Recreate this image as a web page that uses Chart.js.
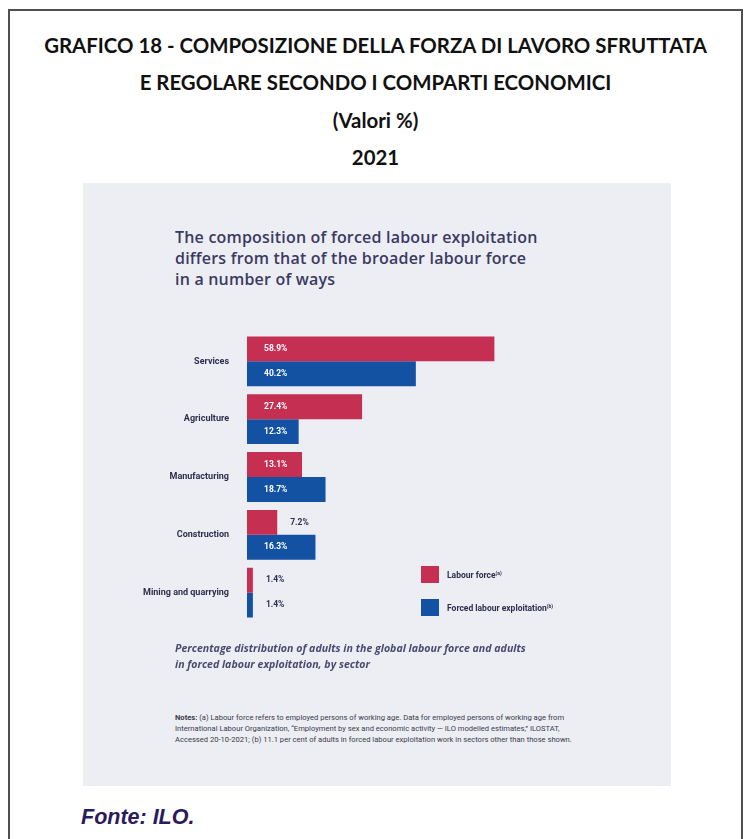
<!DOCTYPE html>
<html>
<head>
<meta charset="utf-8">
<script src="https://cdn.jsdelivr.net/npm/chart.js@4.4.0/dist/chart.umd.min.js"></script>
<style>
  html, body { margin: 0; padding: 0; background: #fff; }
  body { width: 744px; height: 839px; position: relative; overflow: hidden; font-family: 'Open Sans', sans-serif; }
  .frame { position: absolute; left: 8px; top: 9px; width: 731px; height: 900px; border: 2px solid #505050; }
  .head { position: absolute; left: 9px; width: 733px; text-align: center; font-family: Lato, sans-serif;
          font-weight: 700; font-size: 20.4px; color: #111; line-height: 24px; }
  .panel { position: absolute; left: 83px; top: 183px; width: 588px; height: 603px; background: #eceef4; }
  .lead { position: absolute; left: 175px; top: 227px; font-size: 16px; font-weight: 600; color: #3b3a63;
          line-height: 21px; letter-spacing: 0.2px; }
  #wrap { position: absolute; left: 90px; top: 309px; width: 419px; height: 336px; }
  .legend { position: absolute; left: 421px; top: 566px; }
  .leg-item { display: flex; align-items: center; height: 17px; margin-bottom: 16px; font-family: Roboto, sans-serif;
              font-size: 8.5px; font-weight: 700; color: #2e2d4d; }
  .leg-dot { width: 18px; height: 17px; margin-right: 8px; }
  .leg-item sup { font-size: 5px; vertical-align: 3px; line-height: 0; }
  .caption { position: absolute; left: 175px; top: 640px; font-size: 10.6px; font-weight: 700; font-style: italic;
             color: #4a4970; line-height: 16px; }
  .notes { position: absolute; left: 175px; top: 712px; font-family: Roboto, sans-serif; font-size: 7.6px;
           color: #3a3a4a; line-height: 11px; white-space: nowrap; }
  .fonte { position: absolute; left: 81px; top: 805px; font-family: 'Liberation Sans', Arial, sans-serif;
           font-size: 21.5px; font-weight: 700; font-style: italic; color: #2b1b5c; }
</style>
</head>
<body>
<div class="frame"></div>
<div class="head" style="top:33px">GRAFICO 18 - COMPOSIZIONE DELLA FORZA DI LAVORO SFRUTTATA</div>
<div class="head" style="top:70px">E REGOLARE SECONDO I COMPARTI ECONOMICI</div>
<div class="head" style="top:108px">(Valori %)</div>
<div class="head" style="top:145px">2021</div>

<div class="panel"></div>
<div class="lead">The composition of forced labour exploitation<br>differs from that of the broader labour force<br>in a number of ways</div>
<div id="wrap"><canvas id="barChart"></canvas></div>
<div class="legend" id="legend"></div>
<div class="caption">Percentage distribution of adults in the global labour force and adults<br>in forced labour exploitation, by sector</div>
<div class="notes"><b>Notes:</b> (a) Labour force refers to employed persons of working age. Data for employed persons of working age from<br>International Labour Organization, “Employment by sex and economic activity — ILO modelled estimates,” ILOSTAT,<br>Accessed 20-10-2021; (b) 11.1 per cent of adults in forced labour exploitation work in sectors other than those shown.</div>
<div class="fonte">Fonte: ILO.</div>

<script>
// Sector shares (%)
const sectors       = ['Services', 'Agriculture', 'Manufacturing', 'Construction', 'Mining and quarrying'];
const labourForce   = [58.9, 27.4, 13.1, 7.2, 1.4];
const forcedLabour  = [40.2, 12.3, 18.7, 16.3, 1.4];

const RED   = '#c42f52';
const BLUE  = '#1352a2';
const INK   = '#2e2d4d';

// Legend (html)
document.getElementById('legend').innerHTML = [
  { label: 'Labour force', sup: '(a)', color: RED },
  { label: 'Forced labour exploitation', sup: '(b)', color: BLUE }
].map(i => `<div class="leg-item"><span class="leg-dot" style="background:${i.color}"></span><span>${i.label}<sup>${i.sup}</sup></span></div>`).join('');

// Value labels: white inside the bar, dark just past the end when the bar is too short
const valueLabels = {
  id: 'valueLabels',
  afterDatasetsDraw(chart) {
    const ctx = chart.ctx;
    ctx.save();
    ctx.font = '700 8.5px Roboto, sans-serif';
    ctx.textBaseline = 'middle';
    ctx.textAlign = 'left';
    chart.data.datasets.forEach((ds, di) => {
      chart.getDatasetMeta(di).data.forEach((bar, i) => {
        const txt = ds.data[i].toFixed(1) + '%';
        const w = ctx.measureText(txt).width;
        const left = Math.min(bar.base, bar.x), right = Math.max(bar.base, bar.x);
        let x = left + 17;
        if (x + w + 4 <= right) {
          ctx.fillStyle = '#ffffff';
        } else {
          x = Math.max(left + 17, right + 13);
          ctx.fillStyle = INK;
        }
        ctx.fillText(txt, x, bar.y);
      });
    });
    ctx.restore();
  }
};

new Chart(document.getElementById('barChart'), {
  type: 'bar',
  data: {
    labels: sectors,
    datasets: [
      { label: 'Labour force', data: labourForce, backgroundColor: RED, borderWidth: 0 },
      { label: 'Forced labour exploitation', data: forcedLabour, backgroundColor: BLUE, borderWidth: 0 }
    ]
  },
  options: {
    indexAxis: 'y',
    responsive: true,
    maintainAspectRatio: false,
    animation: false,
    layout: { padding: { top: 0, bottom: 0, right: 10, left: 0 } },
    datasets: { bar: { categoryPercentage: 0.862, barPercentage: 1 } },
    plugins: { legend: { display: false }, tooltip: { enabled: false } },
    scales: {
      x: { display: false, min: 0, max: 60 },
      y: {
        grid: { display: false, drawTicks: false },
        border: { display: false },
        ticks: { color: INK, padding: 18, font: { family: 'Roboto, sans-serif', size: 9, weight: '700' } },
        afterFit: s => { s.width = 157; }
      }
    }
  },
  plugins: [valueLabels]
});
</script>
</body>
</html>
